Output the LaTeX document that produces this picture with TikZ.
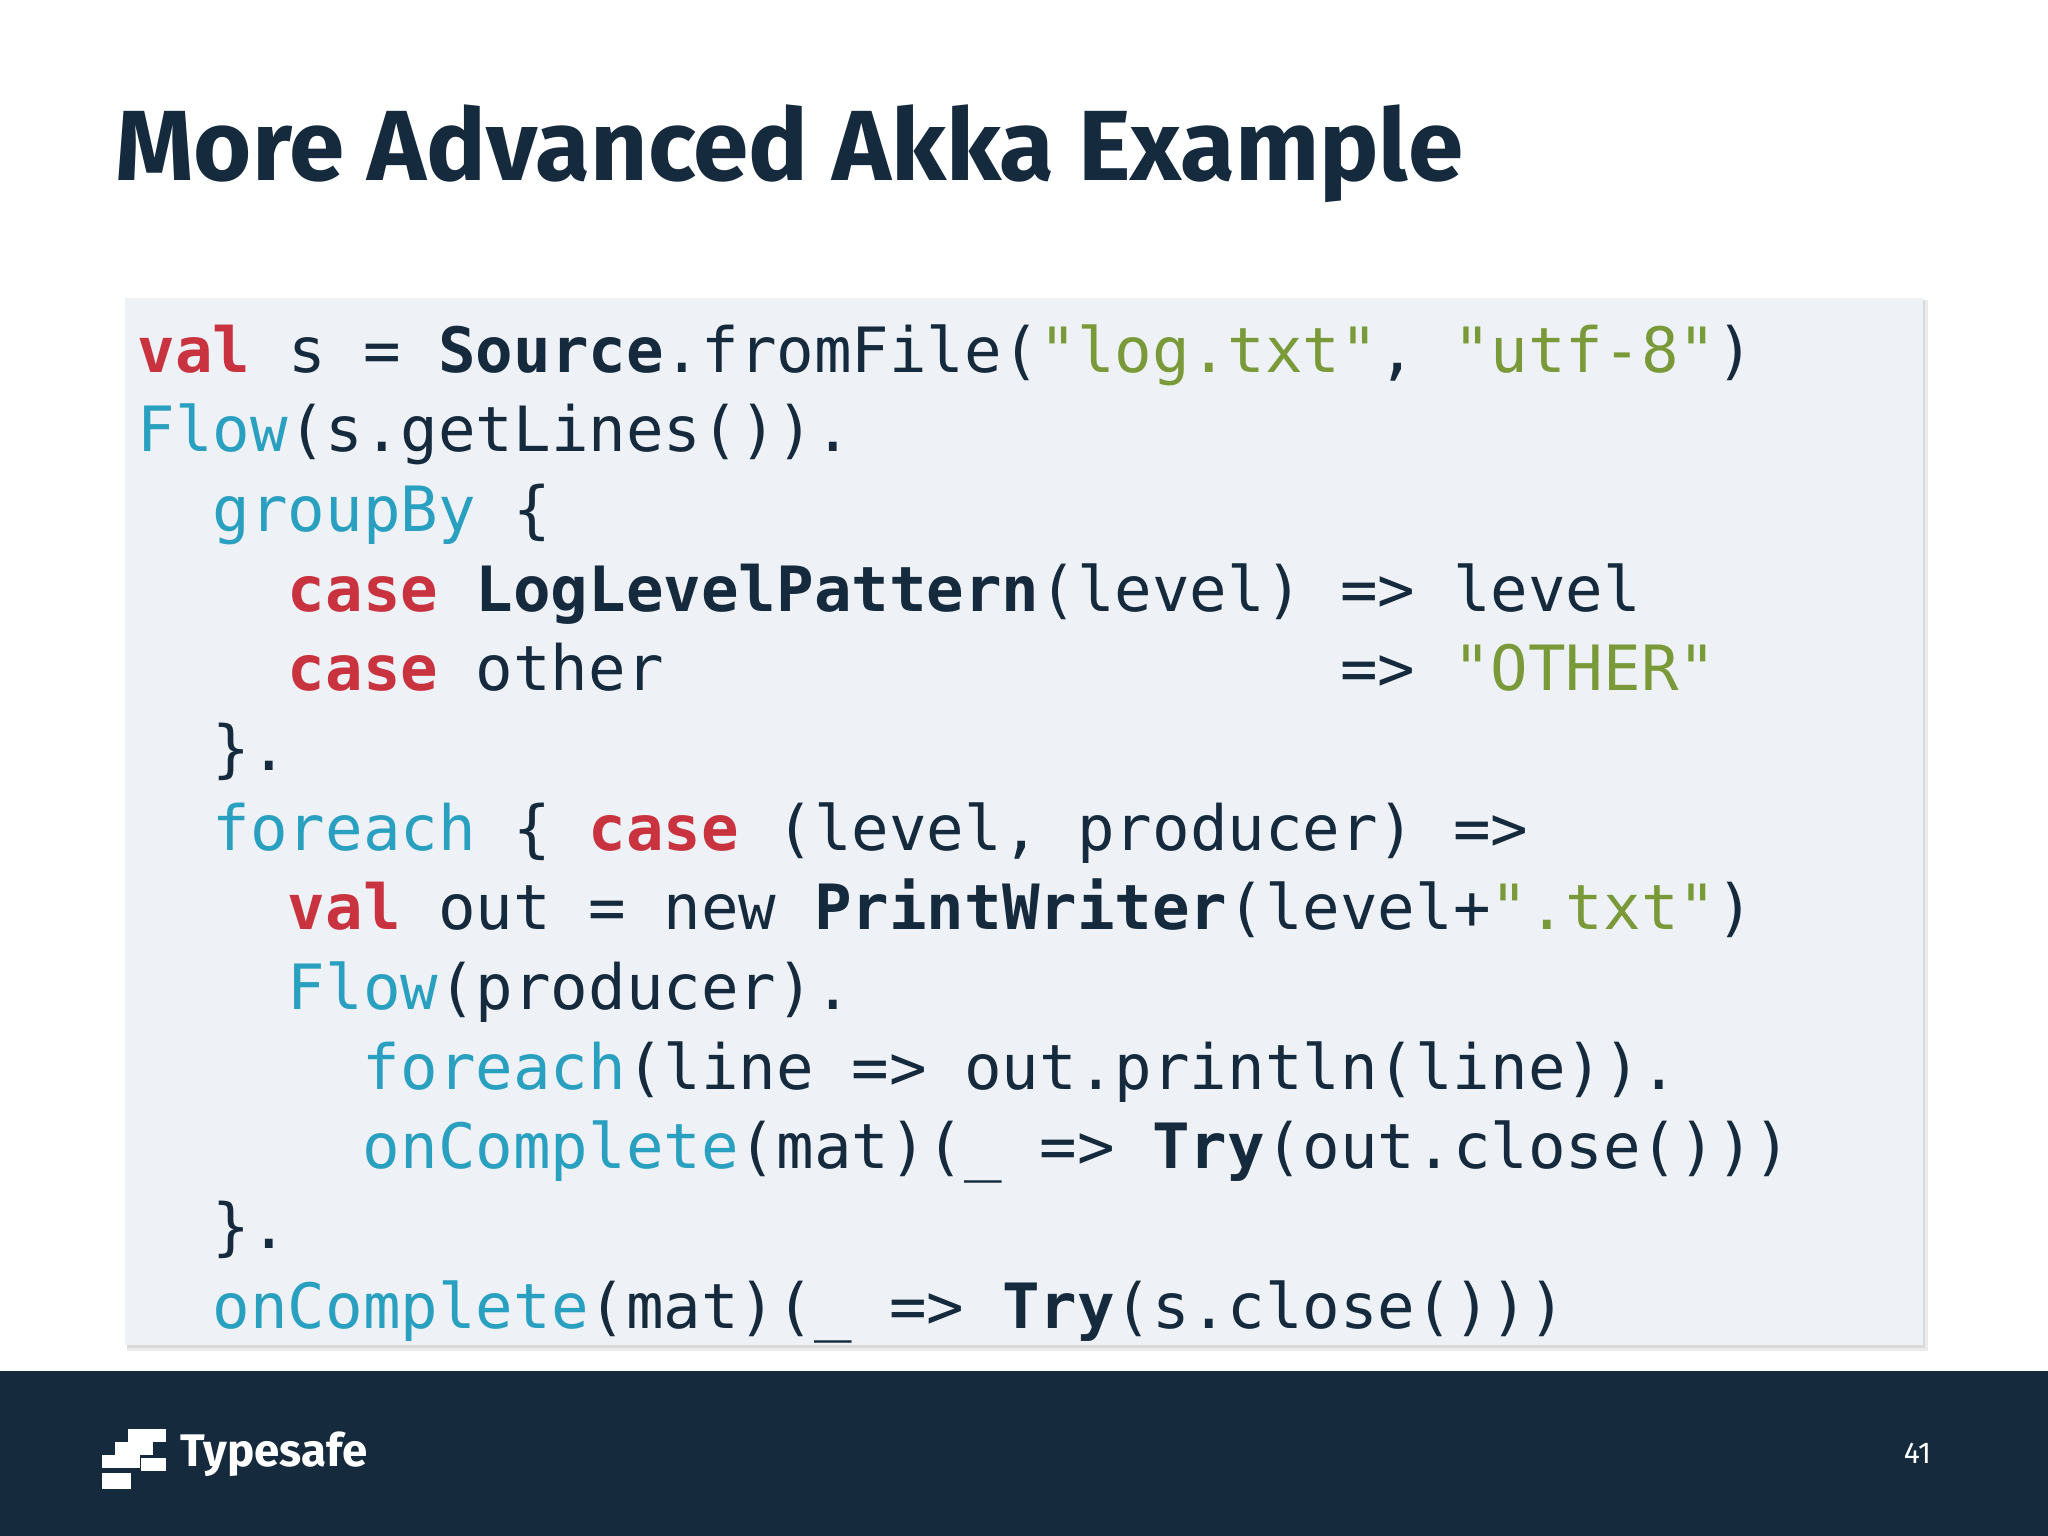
\documentclass[tikz,border=0pt]{standalone}
\usepackage{fontspec}
\setmainfont{Fira Sans}
\setmonofont{DejaVu Sans Mono}
\definecolor{navy}{HTML}{152A3D}
\definecolor{kred}{HTML}{C8333F}
\definecolor{kcy}{HTML}{2AA0C0}
\definecolor{kgr}{HTML}{7A9A3A}
\definecolor{codebg}{HTML}{EEF1F5}
\newcommand{\R}[1]{\textcolor{kred}{\bfseries #1}}
\newcommand{\C}[1]{\textcolor{kcy}{#1}}
\newcommand{\G}[1]{\textcolor{kgr}{#1}}
\newcommand{\B}[1]{\textbf{#1}}
\tikzset{codeline/.style={anchor=base west,inner sep=0pt,font=\ttfamily\fontsize{23.9}{28}\selectfont,text=navy}}
\begin{document}
\begin{tikzpicture}[x=0.5pt,y=-0.5pt]
\useasboundingbox (0,0) rectangle (1568,1176);
\fill[white] (0,0) rectangle (1568,1176);
\node[anchor=base west,inner sep=0pt,text=navy,font=\bfseries\fontsize{38.2}{42}\selectfont] (title) at (88,138) {More Advanced Akka Example};
\fill[black!8] (97,230) rectangle (1476,1034);
\fill[black!15] (97,230) rectangle (1474,1032);
\fill[codebg] (96,228) rectangle (1472,1030);
\def\cw{28.75}
\node[codeline] (l1) at (105,285) {\R{val} s = \B{Source}.fromFile(\G{"log.txt"}, \G{"utf-8"})};
\node[codeline] (l2) at (105,346) {\C{Flow}(s.getLines()).};
\node[codeline] (l3) at (105+2*\cw,407) {\C{groupBy} \{};
\node[codeline] (l4) at (105+4*\cw,468) {\R{case} \B{LogLevelPattern}(level) => level};
\node[codeline] (l5) at (105+4*\cw,529) {\R{case} other~~~~~~~~~~~~~~~~~~=> \G{"OTHER"}};
\node[codeline] (l6) at (105+2*\cw,590) {\}.};
\node[codeline] (l7) at (105+2*\cw,651) {\C{foreach} \{ \R{case} (level, producer) =>};
\node[codeline] (l8) at (105+4*\cw,712) {\R{val} out = new \B{PrintWriter}(level+\G{".txt"})};
\node[codeline] (l9) at (105+4*\cw,773) {\C{Flow}(producer).};
\node[codeline] (l10) at (105+6*\cw,834) {\C{foreach}(line => out.println(line)).};
\node[codeline] (l11) at (105+6*\cw,895) {\C{onComplete}(mat)(\_ => \B{Try}(out.close()))};
\node[codeline] (l12) at (105+2*\cw,956) {\}.};
\node[codeline] (l13) at (105+2*\cw,1017) {\C{onComplete}(mat)(\_ => \B{Try}(s.close()))};
\fill[navy] (0,1050) rectangle (1568,1176);
\begin{scope}[white]
\fill (98,1094) rectangle (127,1104);
\fill (88,1104) rectangle (117,1114);
\fill (78,1114) rectangle (107,1124);
\fill (78,1128) rectangle (100,1140);
\fill (108,1116) rectangle (127,1126);
\end{scope}
\node[anchor=west,inner sep=0pt,text=white,font=\bfseries\fontsize{17.5}{20}\selectfont] (logo) at (138,1113) {Typesafe};
\node[inner sep=0pt,text=white,font=\fontsize{11.5}{13}\selectfont] (pg) at (1468,1113) {41};
\end{tikzpicture}
\end{document}
